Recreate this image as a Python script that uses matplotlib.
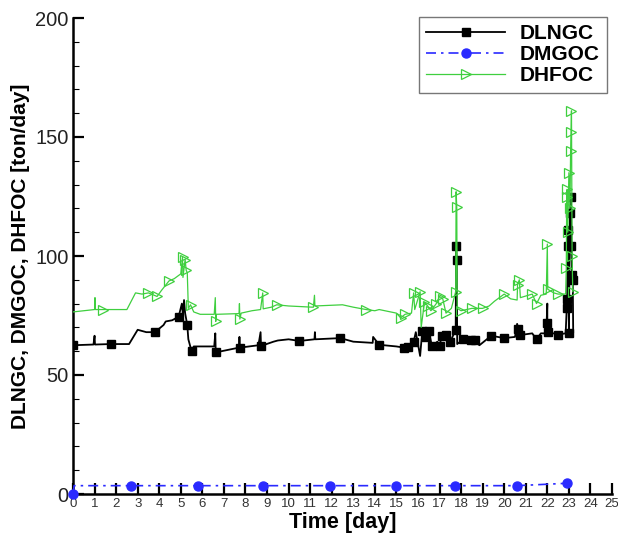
import matplotlib
matplotlib.use("Agg")
import matplotlib.pyplot as plt
from matplotlib.ticker import MultipleLocator

plt.rcParams['font.family'] = ['Liberation Sans', 'DejaVu Sans']

# DLNGC: time [day], value [ton/day], marker flag
lng_t = [0.0, 0.95, 1.0, 1.02, 1.74, 2.6, 3.0, 3.4, 3.8, 4.2, 4.3, 4.6, 4.9, 5.05, 5.1,
         5.15, 5.2, 5.3, 5.35, 5.5, 5.6, 6.55, 6.6, 6.62, 7.7, 7.72, 7.74, 8.6, 8.7, 8.72,
         9.3, 9.5, 10.0, 10.5, 11.2, 11.22, 11.24, 12.4, 13.0, 13.9, 13.92, 14.2, 15.0,
         15.35, 15.55, 15.8, 15.9, 16.0, 16.1, 16.2, 16.35, 16.5, 16.65, 16.9, 17.0, 17.1,
         17.3, 17.5, 17.75, 17.77, 17.8, 17.82, 18.1, 18.45, 18.65, 18.85, 19.4, 20.0,
         20.5, 20.6, 20.65, 20.75, 21.3, 21.5, 21.7, 21.95, 22.0, 22.0, 22.05, 22.5, 22.85,
         22.9, 22.92, 22.95, 22.97, 23.0, 23.05, 23.1, 23.12, 23.15, 23.18, 23.2]
lng_v = [62.5, 62.8, 66.5, 62.8, 63.0, 63.0, 69.0, 68.0, 68.0, 71.0, 72.5, 73.0, 74.5, 80.0, 75.0,
         81.5, 76.0, 71.0, 65.0, 60.0, 62.0, 62.0, 67.5, 59.5, 61.5, 66.0, 61.5, 62.5, 68.0, 62.2,
         64.0, 64.5, 65.0, 64.3, 65.0, 68.0, 65.0, 65.5, 64.0, 63.5, 66.0, 62.7, 62.0,
         61.5, 61.8, 64.0, 68.0, 63.0, 58.0, 68.5, 66.0, 68.5, 62.0, 64.0, 62.0, 66.5,
         67.0, 64.0, 69.0, 104.0, 98.5, 63.0, 65.0, 64.5, 64.5, 62.5, 66.5, 65.5,
         66.0, 71.5, 69.5, 66.8, 67.5, 65.0, 67.5, 67.5, 80.0, 72.0, 68.0, 67.0, 67.5,
         78.0, 82.0, 111.0, 104.0, 67.5, 118.0, 125.0, 104.0, 92.0, 90.0, 68.0]
lng_mark = [1, 0, 0, 0, 1, 0, 0, 0, 1, 0, 0, 0, 1, 0, 0,
            0, 0, 1, 0, 1, 0, 0, 0, 1, 0, 0, 1, 0, 0, 1,
            0, 0, 0, 1, 0, 0, 0, 1, 0, 0, 0, 1, 0,
            1, 1, 1, 0, 0, 0, 1, 1, 1, 1, 0, 1, 1,
            1, 1, 1, 1, 1, 0, 1, 1, 1, 0, 1, 1,
            0, 0, 1, 1, 0, 1, 0, 0, 0, 1, 1, 1, 0,
            1, 1, 1, 1, 1, 1, 1, 1, 1, 1, 0]

# DMGOC
mgo_t = [0.0, 0.05, 2.7, 5.8, 8.8, 11.9, 15.0, 17.7, 20.6, 22.9, 23.2]
mgo_v = [0.0, 3.5, 3.5, 3.5, 3.5, 3.5, 3.5, 3.5, 3.5, 4.5, 3.5]
mgo_mark = [1, 0, 1, 1, 1, 1, 1, 1, 1, 1, 0]

# DHFOC
hfo_t = [0.0, 1.0, 1.02, 1.04, 1.4, 2.5, 2.9, 3.2, 3.5, 3.9, 4.1, 4.45, 4.7, 5.0, 5.08,
         5.1, 5.2, 5.25, 5.3, 5.35, 5.45, 5.6, 5.9, 6.55, 6.6, 6.62, 6.65, 7.7, 7.72, 7.74,
         7.8, 8.3, 8.7, 8.8, 8.82, 9.2, 9.45, 10.0, 11.1, 11.15, 11.2, 11.22, 12.5, 13.0,
         13.6, 14.0, 14.2, 15.0, 15.2, 15.4, 15.7, 15.8, 15.85, 16.1, 16.15, 16.3, 16.45,
         16.6, 16.85, 17.0, 17.15, 17.3, 17.55, 17.75, 17.77, 17.8, 17.82, 18.0, 18.5,
         19.0, 19.3, 19.55, 20.0, 20.3, 20.6, 20.62, 20.7, 20.75, 21.3, 21.5, 21.7, 21.95,
         22.0, 22.02, 22.3, 22.5, 22.85, 22.88, 22.9, 22.92, 22.95, 23.0, 23.05, 23.08,
         23.1, 23.12, 23.15, 23.18]
hfo_v = [76.5, 77.5, 82.5, 77.5, 77.5, 77.5, 84.5, 84.0, 84.5, 83.0, 85.5, 89.5, 90.5, 92.5, 99.5,
         91.0, 98.5, 94.0, 93.0, 78.0, 79.5, 76.5, 75.5, 75.5, 82.5, 72.5, 75.5, 75.8, 80.0, 73.5,
         76.0, 77.0, 77.5, 84.5, 77.8, 78.5, 79.5, 79.0, 78.5, 78.5, 83.5, 79.0, 79.5, 78.5,
         77.5, 77.0, 77.5, 76.0, 74.0, 75.5, 76.0, 84.5, 77.5, 85.0, 70.0, 80.5, 79.0,
         77.0, 80.0, 83.0, 82.0, 76.0, 78.0, 85.0, 127.0, 120.5, 78.0, 77.0, 78.0,
         78.0, 79.0, 81.0, 84.0, 82.0, 81.5, 88.0, 90.0, 82.5, 84.0, 80.0, 83.5, 84.0,
         105.0, 86.0, 84.5, 84.0, 84.0, 95.0, 125.0, 128.0, 110.0, 135.0, 120.0, 144.0,
         152.0, 161.0, 100.0, 85.0]
hfo_mark = [0, 0, 0, 0, 1, 0, 0, 0, 1, 1, 0, 1, 0, 0, 1,
            0, 1, 1, 0, 0, 1, 0, 0, 0, 0, 1, 0, 0, 0, 1,
            0, 0, 0, 1, 0, 0, 1, 0, 0, 1, 0, 0, 0, 0,
            1, 0, 0, 0, 1, 1, 0, 1, 0, 1, 0, 1, 1,
            1, 1, 1, 1, 1, 0, 1, 1, 1, 0, 1, 1,
            1, 0, 0, 1, 0, 0, 1, 1, 0, 1, 1, 0, 0,
            1, 1, 0, 1, 0, 1, 1, 1, 1, 1, 1, 1,
            1, 1, 1, 1]

x_ticks = list(range(0, 26))
y_ticks = [0, 50, 100, 150, 200]


def marked(flags):
    return [i for i, f in enumerate(flags) if f]


fig = plt.figure(figsize=(6.18, 5.34), dpi=100)
ax = fig.add_axes([73 / 618, 40 / 534, 539 / 618, 476 / 534])

ax.plot(lng_t, lng_v, color='black', lw=1.3, marker='s', ms=5.5,
        markevery=marked(lng_mark), label='DLNGC', zorder=3)
ax.plot(mgo_t, mgo_v, color='#2a2aff', lw=1.2, ls=(0, (6, 3, 1.5, 3)), marker='o', ms=6.5,
        markevery=marked(mgo_mark), label='DMGOC', zorder=4, clip_on=False)
ax.plot(hfo_t, hfo_v, color='#3fcf3f', lw=0.9, marker='>', ms=7, mfc='none', mew=0.9,
        markevery=marked(hfo_mark), label='DHFOC', zorder=5)

ax.set_xlim(0, 25)
ax.set_ylim(0, 200)
ax.set_xticks(x_ticks)
ax.set_yticks(y_ticks)
ax.yaxis.set_minor_locator(MultipleLocator(10))

for side in ('top', 'right'):
    ax.spines[side].set_visible(False)
for side in ('left', 'bottom'):
    ax.spines[side].set_linewidth(1.8)

ax.tick_params(axis='x', which='major', direction='in', length=8, width=1.6,
               labelsize=9.5, labelcolor='#333333', pad=3)
ax.tick_params(axis='y', which='major', direction='in', length=8, width=1.6,
               labelsize=14.5, labelcolor='#222222', pad=3)
ax.tick_params(axis='y', which='minor', direction='in', length=4, width=0.8)

ax.set_xlabel('Time [day]', fontsize=15.5, fontweight='bold', labelpad=1)
ax.set_ylabel('DLNGC, DMGOC, DHFOC [ton/day]', fontsize=15, fontweight='bold', labelpad=4)

leg = ax.legend(loc='upper right', bbox_to_anchor=(607 / 618, 1 - 17 / 534),
                bbox_transform=fig.transFigure, borderaxespad=0, fancybox=False,
                frameon=True, prop={'weight': 'bold', 'size': 15}, handlelength=3.8,
                labelspacing=0.1, handletextpad=0.7, borderpad=0.35)
leg.get_frame().set_edgecolor('#555555')
leg.get_frame().set_linewidth(1.0)

fig.savefig('out.png', dpi=100)
